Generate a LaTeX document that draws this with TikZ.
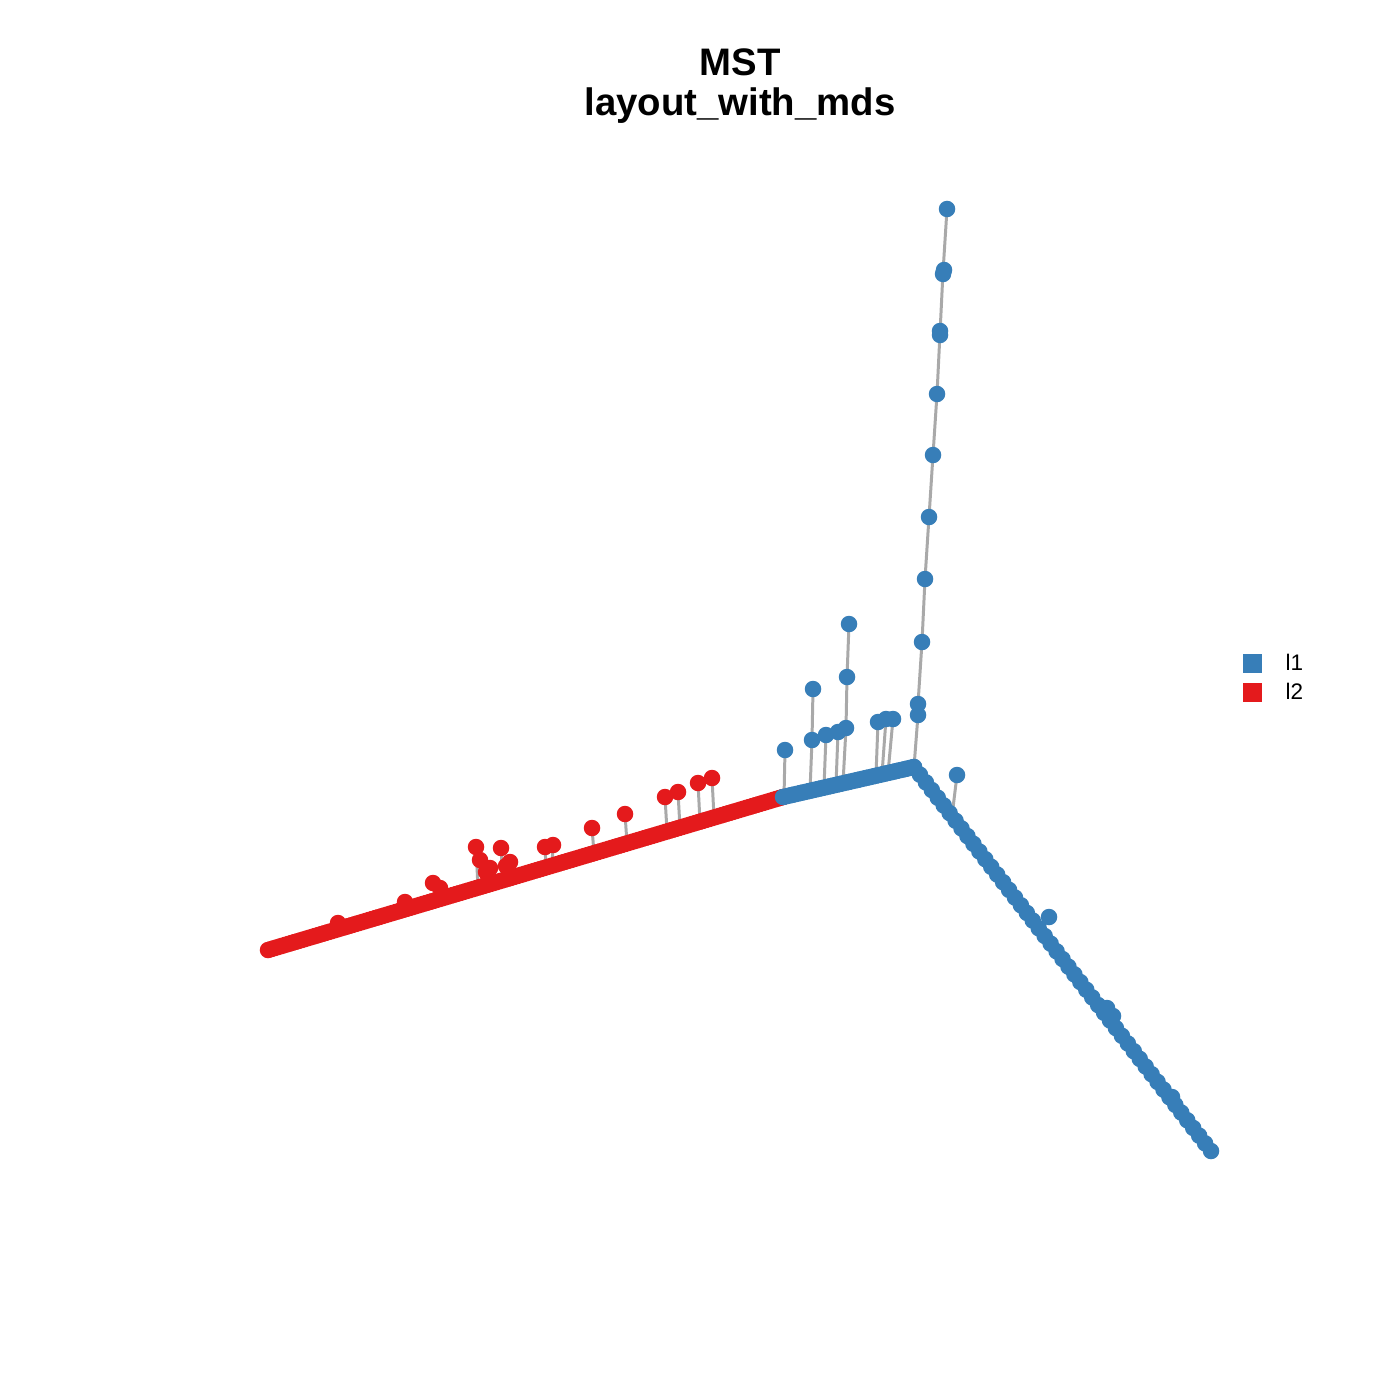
\documentclass[tikz,border=0pt]{standalone}
\usepackage{fontspec}
\setmainfont{Liberation Sans}
\usetikzlibrary{calc}
\definecolor{myblue}{HTML}{377EB8}
\definecolor{myred}{HTML}{E41A1C}
\definecolor{mygrey}{HTML}{A9A9A9}
\tikzset{
  bpt/.style={circle,fill=myblue,inner sep=0pt,minimum size=0.165cm},
  rpt/.style={circle,fill=myred,inner sep=0pt,minimum size=0.165cm},
  link/.style={draw=mygrey,line width=0.85pt},
  titletext/.style={font=\fontsize{10.9}{13}\selectfont\bfseries,anchor=base},
  legtext/.style={font=\fontsize{6.4}{8}\selectfont,anchor=base west,inner sep=0pt},
  legbox/.style={inner sep=0pt,minimum size=0.19cm}
}
\begin{document}
\begin{tikzpicture}[x=0.01cm,y=-0.01cm]
\path[fill=white] (0,0) rectangle (1400,1400);
\useasboundingbox (0,0) rectangle (1400,1400);

% titles
\node[titletext] (t1) at (740,76) {MST};
\node[titletext] (t2) at (740,116) {layout\_with\_mds};

% main backbone coordinates
\coordinate (rs) at (268,950);
\coordinate (rb) at (783,797);
\coordinate (jn) at (914,767);
\coordinate (de) at (1211,1151);

% grey links: backbone
\draw[link] (rs) -- (rb) -- (jn) -- (de);
% vertical branch
\draw[link] (jn) -- (918,715) -- (918,704) -- (922,642) -- (925,579) -- (929,517) -- (933,455) -- (937,394) -- (940,333) -- (943,272) -- (947,209);
% blue stems
\draw[link] (784,797) -- (785,750);
\draw[link] (810,791) -- (812,740) -- (813,689);
\draw[link] (824,787) -- (826,735);
\draw[link] (836,785) -- (838,732);
\draw[link] (843,783) -- (846,728) -- (847,677) -- (849,624);
\draw[link] (876,775) -- (878,722);
\draw[link] (882,774) -- (886,719);
\draw[link] (888,773) -- (893,719);
\draw[link] (952,816) -- (957,775);
\draw[link] (1040,930) -- (1049,917);
% red stems
\draw[link] (478,888) -- (476,847);
\draw[link] (503,880) -- (501,848);
\draw[link] (546,867) -- (545,847);
\draw[link] (552,866) -- (553,845);
\draw[link] (594,853) -- (592,828);
\draw[link] (627,843) -- (625,814);
\draw[link] (667,831) -- (665,797);
\draw[link] (680,828) -- (678,792);
\draw[link] (700,822) -- (698,783);
\draw[link] (714,817) -- (712,778);
\draw[link] (438,899) -- (433,883);

% red chain
\foreach \i in {0,...,172} {
  \node[rpt] (r\i) at ($(rs)!\i/172!(rb)$) {};
}
% blue chain to junction
\foreach \i in {0,...,44} {
  \node[bpt] (b\i) at ($(rb)!\i/44!(jn)$) {};
}
% blue diagonal chain
\foreach \i in {0,...,50} {
  \node[bpt] (d\i) at ($(jn)!\i/50!(de)$) {};
}

% vertical branch points
\foreach \p [count=\k] in {(918,715),(918,704),(922,642),(925,579),(929,517),(933,455),(937,394),(940,335),(940,331),(943,274),(944,270),(947,209)} {
  \node[bpt] (v\k) at \p {};
}
% blue stem points
\foreach \p [count=\k] in {(785,750),(812,740),(813,689),(826,735),(838,732),(846,728),(847,677),(849,624),(878,722),(886,719),(893,719),(957,775),(1049,917),(1107,1008),(1113,1016),(1172,1097)} {
  \node[bpt] (s\k) at \p {};
}
% red off-line points
\foreach \p [count=\k] in {(338,923),(405,902),(433,883),(440,888),(476,847),(480,860),(486,872),(490,868),(501,848),(510,862),(506,866),(545,847),(553,845),(592,828),(625,814),(665,797),(678,792),(698,783),(712,778)} {
  \node[rpt] (q\k) at \p {};
}

% legend
\node[legbox,fill=myblue] (lb1) at (1252,663) {};
\node[legbox,fill=myred] (lb2) at (1252,692) {};
\node[legtext] (ll1) at (1285,670) {l1};
\node[legtext] (ll2) at (1285,699) {l2};
\end{tikzpicture}
\end{document}
